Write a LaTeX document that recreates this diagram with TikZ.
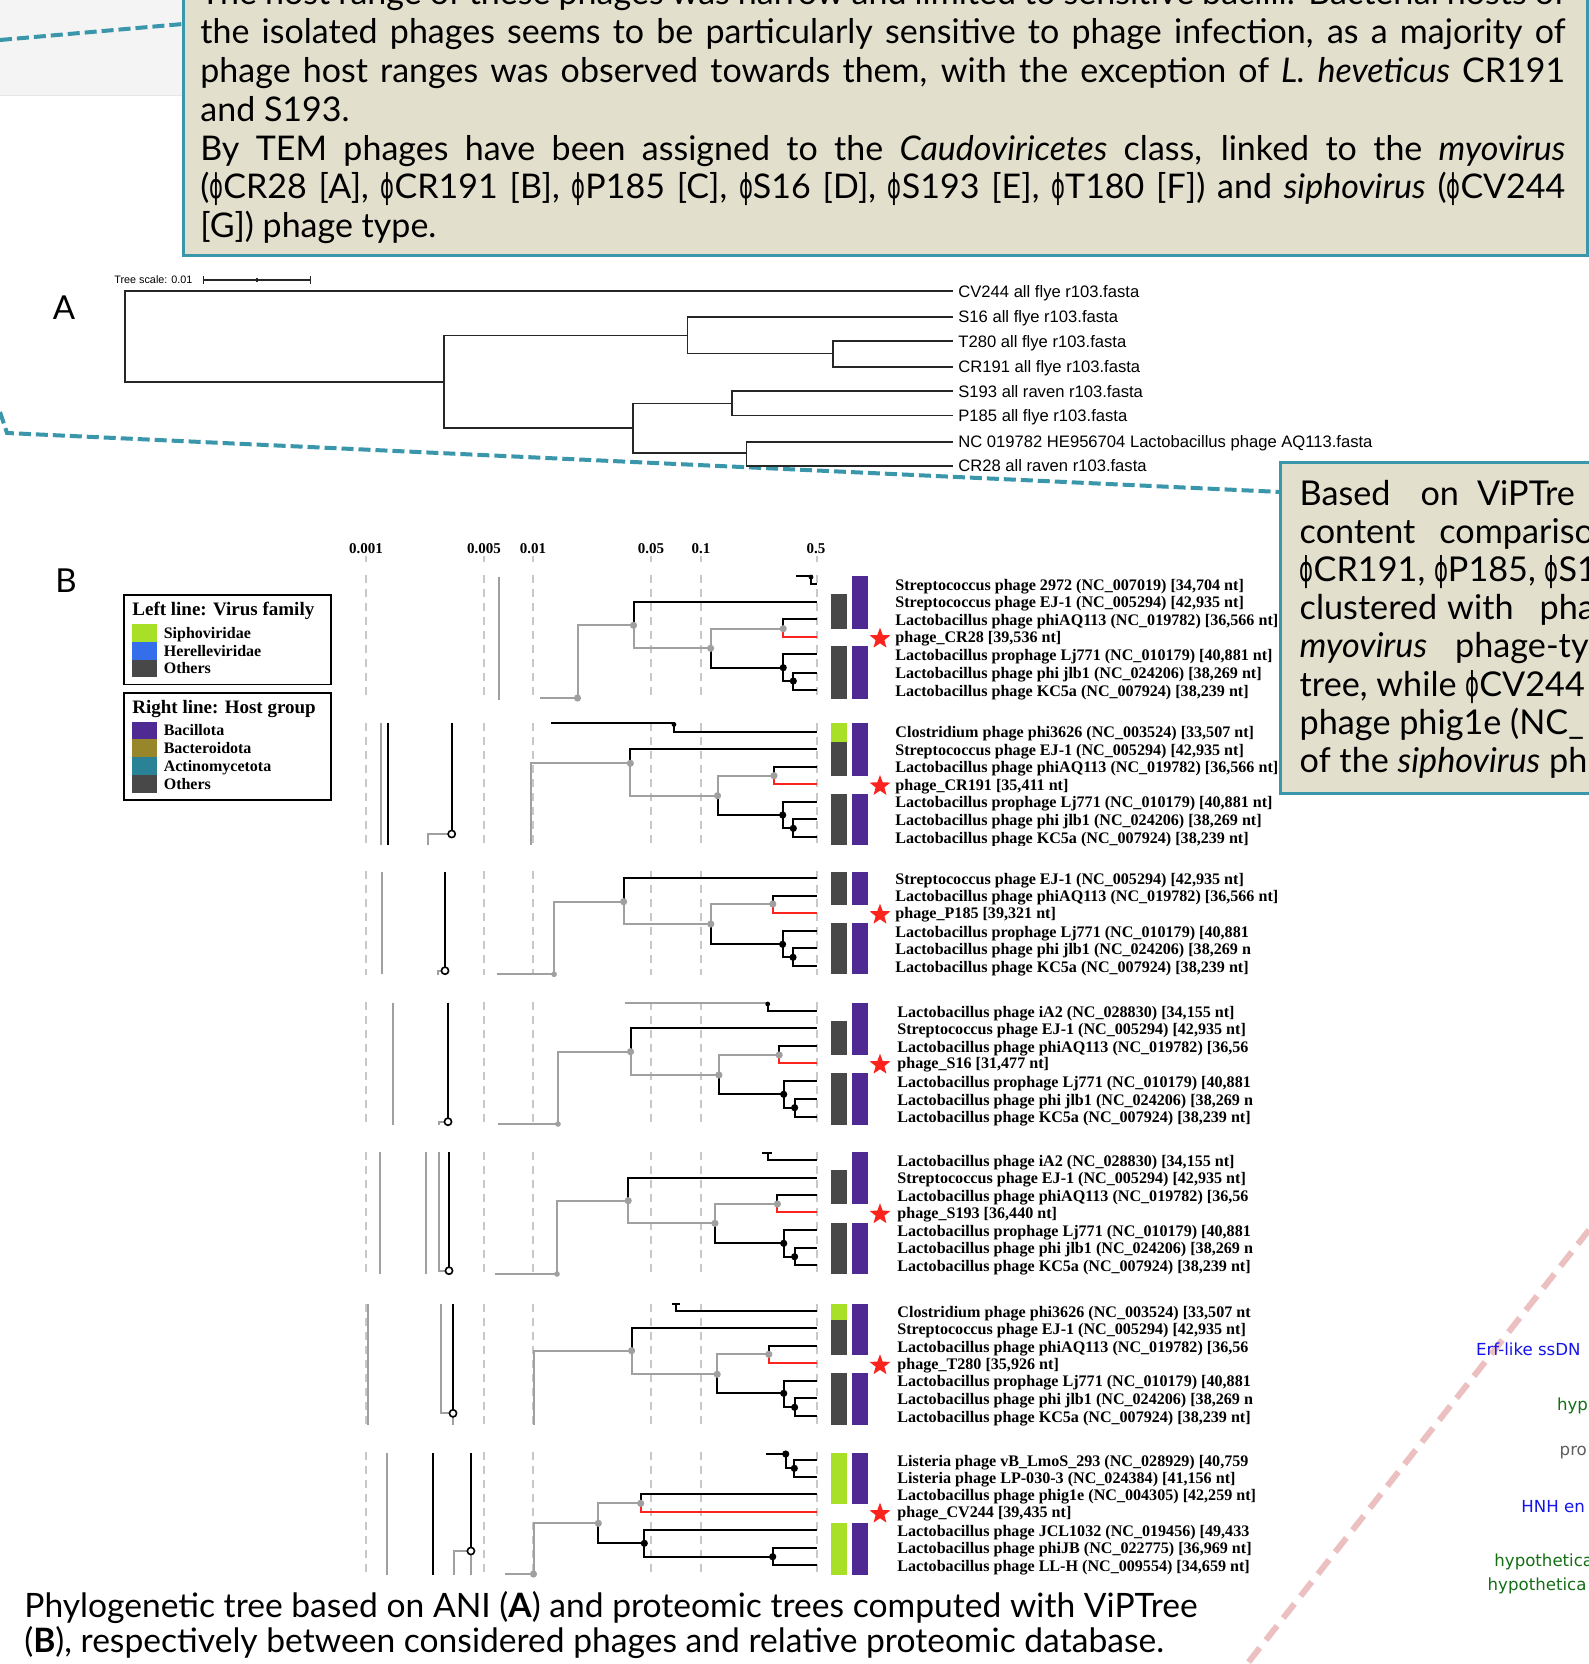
\documentclass[tikz,border=0pt]{standalone}
\usepackage{fontspec}
\usepackage{graphicx}
\setmainfont{Lato}
\newfontfamily\phifont{DejaVu Sans}
\newfontfamily\arialf{Liberation Sans}
\newfontfamily\timesf{Liberation Serif}
\newfontfamily\dvs{DejaVu Sans}
\usetikzlibrary{shapes.geometric}
\newcommand{\ph}{{\phifont\scalebox{0.62}[1]{ϕ}}}
\definecolor{tealb}{RGB}{58,150,170}
\definecolor{beigeb}{RGB}{226,223,205}
\definecolor{lgrayb}{RGB}{244,244,244}
\definecolor{tgray}{RGB}{160,160,160}
\definecolor{dgrid}{RGB}{200,200,200}
\definecolor{barg}{RGB}{72,72,72}
\definecolor{barp}{RGB}{78,42,146}
\definecolor{barl}{RGB}{168,224,40}
\definecolor{herb}{RGB}{52,110,235}
\definecolor{bacb}{RGB}{152,134,42}
\definecolor{actt}{RGB}{42,130,150}
\definecolor{pinkd}{RGB}{236,192,192}
\definecolor{tred}{RGB}{250,35,30}
\definecolor{lblue}{RGB}{20,20,235}
\definecolor{lgreen}{RGB}{20,110,20}
\definecolor{lgrayt}{RGB}{95,95,95}
\newcommand{\mylab}[4]{\node[tlab] (#1) at (#2,#3) {#4};}
\newcommand{\jline}[1]{\makebox[682.5pt][s]{\spaceskip=0.2em plus 1em minus 0.1em #1}}
\begin{document}
\begin{tikzpicture}[x=0.5pt,y=-0.5pt,
  blk/.style={draw=black, line width=1pt},
  gry/.style={draw=tgray, line width=1pt},
  rdl/.style={draw=tred, line width=1pt},
  gridl/.style={draw=dgrid, line width=0.7pt, dash pattern=on 4pt off 3pt},
  trea/.style={draw=black!85, line width=0.8pt},
  tlab/.style={anchor=base west, inner sep=0pt, font=\timesf\bfseries\fontsize{8.05pt}{9pt}\selectfont},
  alab/.style={anchor=base west, inner sep=0pt, font=\arialf\fontsize{8.3pt}{10pt}\selectfont},
  boxtext/.style={anchor=base west, inner sep=0pt, font=\fontsize{17pt}{19pt}\selectfont},
  rboxtext/.style={anchor=base west, inner sep=0pt, font=\fontsize{17.1pt}{19pt}\selectfont},
  captext/.style={anchor=base west, inner sep=0pt, font=\fontsize{16.8pt}{19pt}\selectfont},
  starmark/.style={star, star points=5, star point ratio=2.4, fill=tred, draw=none, inner sep=0pt, minimum size=11pt},
  legt/.style={anchor=base west, inner sep=0pt, font=\timesf\bfseries\fontsize{9.5pt}{11pt}\selectfont},
  lege/.style={anchor=base west, inner sep=0pt, font=\timesf\bfseries\fontsize{8pt}{9pt}\selectfont},
  scl/.style={anchor=base, inner sep=0pt, font=\timesf\bfseries\fontsize{7.5pt}{9pt}\selectfont},
  rlab/.style={anchor=base west, inner sep=0pt, font=\dvs\fontsize{8.3pt}{10pt}\selectfont},
  legbox/.style={draw=black, line width=0.8pt},
  tealdash/.style={draw=tealb, line width=2pt, dash pattern=on 6pt off 2.5pt},
  infobox/.style={fill=beigeb, draw=tealb, line width=1.5pt}]
\useasboundingbox (0,0) rectangle (1589,1664);
\clip (0,0) rectangle (1589,1664);
\fill[white] (0,0) rectangle (1589,1664);
% top-left grey panel
\fill[lgrayb] (0,0) rectangle (183,96);
\draw[black!10, line width=0.5pt] (0,96) -- (183,96);
% teal dashed connectors
\draw[tealdash] (0,40) -- (183,24);
\draw[tealdash] (0,412) -- (7,433) -- (1281,492);
% pink dashed
\draw[draw=pinkd, line width=3pt, dash pattern=on 9pt off 5pt] (1589,1230) -- (1247,1664);

% top box
\draw[infobox] (183,-10) rectangle (1587,256);
\node[boxtext] (t0) at (200,5) {\jline{The host range of these phages was narrow and limited to sensitive bacilli. Bacterial hosts of}};
\node[boxtext] (t1) at (200,44) {\jline{the isolated phages seems to be particularly sensitive to phage infection, as a majority of}};
\node[boxtext] (t2) at (200,83) {\jline{phage host ranges was observed towards them, with the exception of \textit{L. heveticus} CR191}};
\node[boxtext] (t3) at (200,122) {and S193.};
\node[boxtext] (t4) at (200,160.5) {\jline{By TEM phages have been assigned to the \textit{Caudoviricetes} class, linked to the \textit{myovirus}}};
\node[boxtext] (t5) at (200,199) {\jline{(\ph CR28 [A], \ph CR191 [B], \ph P185 [C], \ph S16 [D], \ph S193 [E], \ph T180 [F]) and \textit{siphovirus} (\ph CV244}};
\node[boxtext] (t6) at (200,237.5) {[G]) phage type.};

% ---------------- Tree A ----------------
\node[anchor=base west, inner sep=0pt, font=\arialf\fontsize{5.4pt}{6pt}\selectfont] (tscale) at (114,284) {Tree scale: 0.01};
\draw[trea, line width=0.6pt] (203.6,280) -- (310.7,280);
\draw[trea, line width=0.6pt] (203.6,276) -- (203.6,284) (310.7,276) -- (310.7,284) (257,278) -- (257,282);
\node[anchor=center, inner sep=0pt, font=\fontsize{16.5pt}{18pt}\selectfont] (labA) at (64,308) {A};
\draw[trea] (953,291) -- (125,291) -- (125,381.7) -- (444,381.7);
\draw[trea] (953,316.7) -- (687.5,316.7) -- (687.5,353.3) -- (833,353.3);
\draw[trea] (687.5,335.3) -- (444,335.3) -- (444,428) -- (633,428);
\draw[trea] (953,341) -- (833,341) -- (833,366.7) -- (953,366.7);
\draw[trea] (633,403.3) -- (633,452.7) -- (746.4,452.7);
\draw[trea] (633,403.3) -- (732,403.3);
\draw[trea] (953,391) -- (732,391) -- (732,415.3) -- (953,415.3);
\draw[trea] (953,441.7) -- (746.4,441.7) -- (746.4,465.7) -- (953,465.7);
\node[alab] (a1) at (958,297) {CV244 all flye r103.fasta};
\node[alab] (a2) at (958,322.7) {S16 all flye r103.fasta};
\node[alab] (a3) at (958,347) {T280 all flye r103.fasta};
\node[alab] (a4) at (958,372.7) {CR191 all flye r103.fasta};
\node[alab] (a5) at (958,397) {S193 all raven r103.fasta};
\node[alab] (a6) at (958,421.3) {P185 all flye r103.fasta};
\node[alab] (a7) at (958,447.7) {NC 019782 HE956704 Lactobacillus phage AQ113.fasta};
\node[alab] (a8) at (958,471.7) {CR28 all raven r103.fasta};

% ---------------- Tree B ----------------
\node[anchor=center, inner sep=0pt, font=\fontsize{16.5pt}{18pt}\selectfont] (labB) at (66,581) {B};
\node[scl] (s1) at (366,553) {0.001};
\node[scl] (s2) at (484,553) {0.005};
\node[scl] (s3) at (533,553) {0.01};
\node[scl] (s4) at (651,553) {0.05};
\node[scl] (s5) at (701,553) {0.1};
\node[scl] (s6) at (816,553) {0.5};
\foreach \xx in {366,484,533,651,701,817} {
  \draw[gridl] (\xx,556) -- (\xx,562);
  \foreach \ya/\yb in {575/700, 723/845, 871/975, 1002/1125, 1152/1274, 1304/1425, 1452/1575}
    \draw[gridl] (\xx,\ya) -- (\xx,\yb);
}

% legend
\draw[legbox] (124,595) rectangle (331,684.5);
\node[legt] (lg1) at (132,615) {Left line: Virus family};
\fill[barl] (132,624.3) rectangle (156.5,642.3);
\fill[herb] (132,642.3) rectangle (156.5,660);
\fill[barg] (132,660) rectangle (156.5,677.3);
\node[lege] (lg1a) at (163.4,638) {Siphoviridae};
\node[lege] (lg1b) at (163.4,656) {Herelleviridae};
\node[lege] (lg1c) at (163.4,673.7) {Others};
\draw[legbox] (124,692.7) rectangle (331,800);
\node[legt] (lg2) at (132,713.3) {Right line: Host group};
\fill[barp] (132,721.7) rectangle (156.5,739.3);
\fill[bacb] (132,739.3) rectangle (156.5,757.3);
\fill[actt] (132,757.3) rectangle (156.5,775);
\fill[barg] (132,775) rectangle (156.5,793.3);
\node[lege] (lg2a) at (163.4,735.5) {Bacillota};
\node[lege] (lg2b) at (163.4,753.3) {Bacteroidota};
\node[lege] (lg2c) at (163.4,771) {Actinomycetota};
\node[lege] (lg2d) at (163.4,789) {Others};

% ===== panel 1 (CR28)
\draw[gry] (499.4,576.7) -- (499.4,700);
\draw[gry] (540,698) -- (577.5,698) -- (577.5,625.3) -- (633.5,625.3);
\draw[blk] (817,601.7) -- (633.5,601.7) -- (633.5,625.3);
\draw[gry] (633.5,625.3) -- (633.5,648.3) -- (710.6,648.3);
\draw[gry] (710.6,648.3) -- (710.6,628.7) -- (783.2,628.7);
\draw[blk] (710.6,648.3) -- (710.6,667.7) -- (783.2,667.7);
\draw[blk] (783.2,628.7) -- (783.2,619.3) -- (817,619.3);
\draw[rdl] (783.2,628.7) -- (783.2,636.7) -- (817,636.7);
\draw[blk] (817,654.3) -- (783.2,654.3) -- (783.2,681) -- (793.3,681);
\draw[blk] (817,672.7) -- (793.3,672.7) -- (793.3,690) -- (817,690);
\draw[blk] (796,576) -- (811,576) -- (811,584) -- (817,584);
\foreach \p in {(577.5,698),(633.5,625.3),(710.6,648.3),(783.2,628.7)} \fill[tgray] \p circle (1.8pt);
\foreach \p in {(783.2,667.7),(793.3,681)} \fill[black] \p circle (1.8pt);
\fill[black] (811,577) circle (1.2pt);
\fill[barp] (852,576) rectangle (868,629);
\fill[barg] (831,594) rectangle (847,629);
\fill[barp] (852,646) rectangle (868,699);
\fill[barg] (831,646) rectangle (847,699);
\node[starmark] (st1) at (880,638.7) {};
\mylab{p1a}{895}{590}{Streptococcus phage 2972 (NC\_007019) [34,704 nt]}
\mylab{p1b}{895}{607.7}{Streptococcus phage EJ-1 (NC\_005294) [42,935 nt]}
\mylab{p1c}{895}{625.3}{Lactobacillus phage phiAQ113 (NC\_019782) [36,566 nt]}
\mylab{p1d}{895}{642.7}{phage\_CR28 [39,536 nt]}
\mylab{p1e}{895}{660.3}{Lactobacillus prophage Lj771 (NC\_010179) [40,881 nt]}
\mylab{p1f}{895}{678.7}{Lactobacillus phage phi jlb1 (NC\_024206) [38,269 nt]}
\mylab{p1g}{895}{696}{Lactobacillus phage KC5a (NC\_007924) [38,239 nt]}

% ===== panel 2 (CR191)
\draw[gry] (381,723) -- (381,845);
\draw[blk] (388.3,723) -- (388.3,845);
\draw[blk] (451.7,723) -- (451.7,830.5);
\draw[gry] (428.3,845) -- (428.3,834) -- (448.2,834);
\draw[black, line width=0.8pt, fill=white] (451.7,834) circle (1.8pt);
\draw[gry] (530.7,845) -- (530.7,763.3) -- (630.3,763.3);
\draw[blk] (817,749) -- (630.3,749) -- (630.3,763.3);
\draw[gry] (630.3,763.3) -- (630.3,795.7) -- (717.5,795.7);
\draw[gry] (717.5,795.7) -- (717.5,775.7) -- (774,775.7);
\draw[blk] (717.5,795.7) -- (717.5,815) -- (782.7,815);
\draw[blk] (774,775.7) -- (774,766.7) -- (817,766.7);
\draw[rdl] (774,775.7) -- (774,784) -- (817,784);
\draw[blk] (817,801.7) -- (782.7,801.7) -- (782.7,828.3) -- (793.3,828.3);
\draw[blk] (817,819.3) -- (793.3,819.3) -- (793.3,837.3) -- (817,837.3);
\draw[blk] (551,723.3) -- (674,723.3) -- (674,731.7) -- (817,731.7);
\foreach \p in {(630.3,763.3),(717.5,795.7),(774,775.7)} \fill[tgray] \p circle (1.8pt);
\foreach \p in {(782.7,815),(793.3,828.3)} \fill[black] \p circle (1.8pt);
\fill[black] (674,724.5) circle (1.2pt);
\fill[barl] (831,723.3) rectangle (847,741.7);
\fill[barg] (831,741.7) rectangle (847,776);
\fill[barp] (852,723.3) rectangle (868,776);
\fill[barg] (831,794.3) rectangle (847,845);
\fill[barp] (852,794.3) rectangle (868,845);
\node[starmark] (st2) at (880,786) {};
\begin{scope}
\clip (880,700) rectangle (1300,845.5);
\mylab{p2a}{895}{737.7}{Clostridium phage phi3626 (NC\_003524) [33,507 nt]}
\mylab{p2b}{895}{755}{Streptococcus phage EJ-1 (NC\_005294) [42,935 nt]}
\mylab{p2c}{895}{772.7}{Lactobacillus phage phiAQ113 (NC\_019782) [36,566 nt]}
\mylab{p2d}{895}{790}{phage\_CR191 [35,411 nt]}
\mylab{p2e}{895}{807.7}{Lactobacillus prophage Lj771 (NC\_010179) [40,881 nt]}
\mylab{p2f}{895}{825.3}{Lactobacillus phage phi jlb1 (NC\_024206) [38,269 nt]}
\mylab{p2g}{895}{843.3}{Lactobacillus phage KC5a (NC\_007924) [38,239 nt]}
\end{scope}

% ===== panel 3 (P185)
\draw[gry] (382,871.7) -- (382,974.3);
\draw[blk] (445,871.7) -- (445,967.2);
\draw[gry] (437.6,975) -- (437.6,970.7) -- (441.5,970.7);
\draw[black, line width=0.8pt, fill=white] (445,970.7) circle (1.8pt);
\draw[gry] (496.7,974.3) -- (554.1,974.3) -- (554.1,901.7) -- (623.6,901.7);
\draw[blk] (817,878.3) -- (623.6,878.3) -- (623.6,901.7);
\draw[gry] (623.6,901.7) -- (623.6,924) -- (710.8,924);
\draw[gry] (710.8,924) -- (710.8,904) -- (772.8,904);
\draw[blk] (710.8,924) -- (710.8,944.3) -- (782.6,944.3);
\draw[blk] (772.8,904) -- (772.8,895.7) -- (817,895.7);
\draw[rdl] (772.8,904) -- (772.8,912.7) -- (817,912.7);
\draw[blk] (817,931) -- (782.6,931) -- (782.6,957.3) -- (793,957.3);
\draw[blk] (817,948.3) -- (793,948.3) -- (793,966) -- (817,966);
\foreach \p in {(623.6,901.7),(710.8,924),(772.8,904)} \fill[tgray] \p circle (1.8pt);
\fill[tgray] (554.1,974.3) circle (1.4pt);
\foreach \p in {(782.6,944.3),(793,957.3)} \fill[black] \p circle (1.8pt);
\fill[barg] (831,871.7) rectangle (847,905);
\fill[barp] (852,871.7) rectangle (868,905);
\fill[barg] (831,923) rectangle (847,974);
\fill[barp] (852,923) rectangle (868,974);
\node[starmark] (st3) at (880,914.7) {};
\begin{scope}
\clip (880,860) rectangle (1300,975);
\mylab{p3a}{895}{884.3}{Streptococcus phage EJ-1 (NC\_005294) [42,935 nt]}
\mylab{p3b}{895}{901.7}{Lactobacillus phage phiAQ113 (NC\_019782) [36,566 nt]}
\mylab{p3c}{895}{918.7}{phage\_P185 [39,321 nt]}
\mylab{p3d}{895}{937}{Lactobacillus prophage Lj771 (NC\_010179) [40,881}
\mylab{p3e}{895}{954.3}{Lactobacillus phage phi jlb1 (NC\_024206) [38,269 n}
\mylab{p3f}{895}{972}{Lactobacillus phage KC5a (NC\_007924) [38,239 nt]}
\end{scope}

% ===== panel 4 (S16)
\draw[gry] (393.4,1002.7) -- (393.4,1125);
\draw[blk] (448,1002.7) -- (448,1118.2);
\draw[gry] (438.7,1125) -- (438.7,1121.7) -- (444.5,1121.7);
\draw[black, line width=0.8pt, fill=white] (448,1121.7) circle (1.8pt);
\draw[gry] (498,1124) -- (558,1124) -- (558,1051.7) -- (630.5,1051.7);
\draw[blk] (817,1028.3) -- (630.5,1028.3) -- (630.5,1051.7);
\draw[gry] (630.5,1051.7) -- (630.5,1075) -- (718.9,1075);
\draw[gry] (718.9,1075) -- (718.9,1055) -- (779.2,1055);
\draw[blk] (718.9,1075) -- (718.9,1094.3) -- (783.7,1094.3);
\draw[blk] (779.2,1055) -- (779.2,1046) -- (817,1046);
\draw[rdl] (779.2,1055) -- (779.2,1062.7) -- (817,1062.7);
\draw[blk] (817,1081) -- (783.7,1081) -- (783.7,1107.7) -- (794.6,1107.7);
\draw[blk] (817,1099.3) -- (794.6,1099.3) -- (794.6,1116.7) -- (817,1116.7);
\draw[gry] (625,1002.7) -- (767.7,1002.7);
\draw[blk] (767.7,1002.7) -- (767.7,1011) -- (817,1011);
\foreach \p in {(630.5,1051.7),(718.9,1075),(779.2,1055)} \fill[tgray] \p circle (1.8pt);
\fill[tgray] (558,1124) circle (1.4pt);
\foreach \p in {(783.7,1094.3),(794.6,1107.7)} \fill[black] \p circle (1.8pt);
\fill[black] (767.7,1004) circle (1.2pt);
\fill[barg] (831,1021) rectangle (847,1055);
\fill[barp] (852,1002.7) rectangle (868,1055);
\fill[barg] (831,1073) rectangle (847,1125);
\fill[barp] (852,1073) rectangle (868,1125);
\node[starmark] (st4) at (880,1064.7) {};
\begin{scope}
\clip (880,990) rectangle (1300,1125.5);
\mylab{p4a}{897}{1017}{Lactobacillus phage iA2 (NC\_028830) [34,155 nt]}
\mylab{p4b}{897}{1034.3}{Streptococcus phage EJ-1 (NC\_005294) [42,935 nt]}
\mylab{p4c}{897}{1052}{Lactobacillus phage phiAQ113 (NC\_019782) [36,56}
\mylab{p4d}{897}{1068.7}{phage\_S16 [31,477 nt]}
\mylab{p4e}{897}{1087}{Lactobacillus prophage Lj771 (NC\_010179) [40,881}
\mylab{p4f}{897}{1105.3}{Lactobacillus phage phi jlb1 (NC\_024206) [38,269 n}
\mylab{p4g}{897}{1122.7}{Lactobacillus phage KC5a (NC\_007924) [38,239 nt]}
\end{scope}

% ===== panel 5 (S193)
\draw[gry] (380.2,1152.3) -- (380.2,1274);
\draw[gry] (426.1,1152.3) -- (426.1,1274);
\draw[gry] (439.3,1152.3) -- (439.3,1270.7) -- (445.5,1270.7);
\draw[blk] (449,1152.3) -- (449,1267.2);
\draw[black, line width=0.8pt, fill=white] (449,1270.7) circle (1.8pt);
\draw[gry] (495,1274) -- (557,1274) -- (557,1200.7) -- (628.2,1200.7);
\draw[blk] (817,1177.7) -- (628.2,1177.7) -- (628.2,1200.7);
\draw[gry] (628.2,1200.7) -- (628.2,1223.3) -- (714.9,1223.3);
\draw[gry] (714.9,1223.3) -- (714.9,1204) -- (777.4,1204);
\draw[blk] (714.9,1223.3) -- (714.9,1243.3) -- (783.7,1243.3);
\draw[blk] (777.4,1204) -- (777.4,1195) -- (817,1195);
\draw[rdl] (777.4,1204) -- (777.4,1212.3) -- (817,1212.3);
\draw[blk] (817,1230) -- (783.7,1230) -- (783.7,1256.7) -- (794.6,1256.7);
\draw[blk] (817,1247.7) -- (794.6,1247.7) -- (794.6,1265) -- (817,1265);
\draw[blk] (762,1152.7) -- (772,1152.7);
\draw[blk] (767.7,1152.7) -- (767.7,1160) -- (817,1160);
\foreach \p in {(628.2,1200.7),(714.9,1223.3),(777.4,1204)} \fill[tgray] \p circle (1.8pt);
\fill[tgray] (557,1274) circle (1.4pt);
\foreach \p in {(783.7,1243.3),(794.6,1256.7)} \fill[black] \p circle (1.8pt);
\fill[barg] (831,1170) rectangle (847,1204);
\fill[barp] (852,1152.3) rectangle (868,1204);
\fill[barg] (831,1222.7) rectangle (847,1274);
\fill[barp] (852,1222.7) rectangle (868,1274);
\node[starmark] (st5) at (880,1214.3) {};
\begin{scope}
\clip (880,1140) rectangle (1300,1275.5);
\mylab{p5a}{897}{1166}{Lactobacillus phage iA2 (NC\_028830) [34,155 nt]}
\mylab{p5b}{897}{1183.7}{Streptococcus phage EJ-1 (NC\_005294) [42,935 nt]}
\mylab{p5c}{897}{1201}{Lactobacillus phage phiAQ113 (NC\_019782) [36,56}
\mylab{p5d}{897}{1218.3}{phage\_S193 [36,440 nt]}
\mylab{p5e}{897}{1236}{Lactobacillus prophage Lj771 (NC\_010179) [40,881}
\mylab{p5f}{897}{1253.7}{Lactobacillus phage phi jlb1 (NC\_024206) [38,269 n}
\mylab{p5g}{897}{1271}{Lactobacillus phage KC5a (NC\_007924) [38,239 nt]}
\end{scope}

% ===== panel 6 (T280)
\draw[gry] (367.6,1304) -- (367.6,1425);
\draw[gry] (440.5,1304) -- (440.5,1413.3) -- (449.5,1413.3);
\draw[blk] (453,1304) -- (453,1409.8);
\draw[gry] (453,1416.8) -- (453,1425);
\draw[black, line width=0.8pt, fill=white] (453,1413.3) circle (1.8pt);
\draw[gry] (533.5,1425) -- (533.5,1350.7) -- (631.6,1350.7);
\draw[blk] (817,1328.3) -- (631.6,1328.3) -- (631.6,1350.7);
\draw[gry] (631.6,1350.7) -- (631.6,1374.3) -- (717.2,1374.3);
\draw[gry] (717.2,1374.3) -- (717.2,1354.3) -- (768.8,1354.3);
\draw[blk] (717.2,1374.3) -- (717.2,1393.3) -- (783.7,1393.3);
\draw[blk] (768.8,1354.3) -- (768.8,1346) -- (817,1346);
\draw[rdl] (768.8,1354.3) -- (768.8,1363.3) -- (817,1363.3);
\draw[blk] (817,1380.7) -- (783.7,1380.7) -- (783.7,1407.3) -- (794.6,1407.3);
\draw[blk] (817,1398.3) -- (794.6,1398.3) -- (794.6,1416) -- (817,1416);
\draw[blk] (672,1304) -- (680,1304);
\draw[blk] (675.8,1304) -- (675.8,1311) -- (817,1311);
\foreach \p in {(631.6,1350.7),(717.2,1374.3),(768.8,1354.3)} \fill[tgray] \p circle (1.8pt);
\foreach \p in {(783.7,1393.3),(794.6,1407.3)} \fill[black] \p circle (1.8pt);
\fill[barl] (831,1304) rectangle (847,1320);
\fill[barg] (831,1320) rectangle (847,1355);
\fill[barp] (852,1304) rectangle (868,1355);
\fill[barg] (831,1373.3) rectangle (847,1425);
\fill[barp] (852,1373.3) rectangle (868,1425);
\node[starmark] (st6) at (880,1365.3) {};
\begin{scope}
\clip (880,1290) rectangle (1300,1426);
\mylab{p6a}{897}{1317}{Clostridium phage phi3626 (NC\_003524) [33,507 nt}
\mylab{p6b}{897}{1334.3}{Streptococcus phage EJ-1 (NC\_005294) [42,935 nt]}
\mylab{p6c}{897}{1352}{Lactobacillus phage phiAQ113 (NC\_019782) [36,56}
\mylab{p6d}{897}{1369.3}{phage\_T280 [35,926 nt]}
\mylab{p6e}{897}{1386.7}{Lactobacillus prophage Lj771 (NC\_010179) [40,881}
\mylab{p6f}{897}{1404.3}{Lactobacillus phage phi jlb1 (NC\_024206) [38,269 n}
\mylab{p6g}{897}{1422}{Lactobacillus phage KC5a (NC\_007924) [38,239 nt]}
\end{scope}

% ===== panel 7 (CV244)
\draw[gry] (387,1452.7) -- (387,1575);
\draw[blk] (433,1452.7) -- (433,1575);
\draw[blk] (470.9,1452.7) -- (470.9,1547.5);
\draw[gry] (453.7,1575) -- (453.7,1551) -- (467.4,1551);
\draw[gry] (470.9,1554.5) -- (470.9,1575);
\draw[black, line width=0.8pt, fill=white] (470.9,1551) circle (1.8pt);
\draw[gry] (505.3,1574) -- (533.5,1574) -- (533.5,1523.3) -- (598.3,1523.3);
\draw[gry] (598.3,1523.3) -- (598.3,1503.3) -- (640.7,1503.3);
\draw[blk] (598.3,1523.3) -- (598.3,1543.3) -- (644.3,1543.3);
\draw[blk] (640.7,1503.3) -- (640.7,1494.3) -- (817,1494.3);
\draw[rdl] (640.7,1503.3) -- (640.7,1511.7) -- (817,1511.7);
\draw[blk] (817,1530) -- (644.3,1530) -- (644.3,1556.7) -- (772.7,1556.7);
\draw[blk] (817,1547.7) -- (772.7,1547.7) -- (772.7,1565) -- (817,1565);
\draw[blk] (766,1454) -- (785.7,1454) -- (785.7,1468.3) -- (794.3,1468.3);
\draw[blk] (817,1460) -- (794.3,1460) -- (794.3,1477.3) -- (817,1477.3);
\foreach \p in {(533.5,1574),(598.3,1523.3),(640.7,1503.3)} \fill[tgray] \p circle (1.8pt);
\foreach \p in {(644.3,1543.3),(772.7,1556.7),(785.7,1454),(794.3,1468.3)} \fill[black] \p circle (1.8pt);
\fill[barl] (831,1452.7) rectangle (847,1504);
\fill[barp] (852,1452.7) rectangle (868,1504);
\fill[barl] (831,1522.7) rectangle (847,1575);
\fill[barp] (852,1522.7) rectangle (868,1575);
\node[starmark] (st7) at (880,1513.7) {};
\begin{scope}
\clip (880,1440) rectangle (1300,1577);
\mylab{p7a}{897}{1466}{Listeria phage vB\_LmoS\_293 (NC\_028929) [40,759}
\mylab{p7b}{897}{1483.3}{Listeria phage LP-030-3 (NC\_024384) [41,156 nt]}
\mylab{p7c}{897}{1500.3}{Lactobacillus phage phig1e (NC\_004305) [42,259 nt]}
\mylab{p7d}{897}{1517.7}{phage\_CV244 [39,435 nt]}
\mylab{p7e}{897}{1536}{Lactobacillus phage JCL1032 (NC\_019456) [49,433}
\mylab{p7f}{897}{1553.7}{Lactobacillus phage phiJB (NC\_022775) [36,969 nt]}
\mylab{p7g}{897}{1571}{Lactobacillus phage LL-H (NC\_009554) [34,659 nt]}
\end{scope}

% right box
\draw[infobox] (1280,462) rectangle (1610,793);
\node[rboxtext] (r1) at (1299.3,505) {Based\hspace{15pt}on\hspace{9pt}ViPTre};
\node[rboxtext] (r2) at (1299.3,543.2) {content\hspace{12pt}compariso};
\node[rboxtext] (r3) at (1299.3,581.4) {\ph CR191, \ph P185, \ph S1};
\node[rboxtext] (r4) at (1299.3,619.6) {clustered\hspace{5pt}with\hspace{13pt}pha};
\node[rboxtext] (r5) at (1299.3,657.8) {\textit{myovirus}\hspace{14pt}phage-ty};
\node[rboxtext] (r6) at (1299.3,696) {tree, while \ph CV244};
\node[rboxtext] (r7) at (1299.3,734.2) {phage phig1e (NC\_};
\node[rboxtext] (r8) at (1299.3,772.4) {of the \textit{siphovirus} ph};

% right-bottom labels
\node[rlab, text=lblue] (g1) at (1475.7,1355) {Erf-like ssDN};
\node[rlab, text=lgreen] (g2) at (1556.7,1410.5) {hyp};
\node[rlab, text=lgrayt] (g3) at (1559.3,1455.5) {pro};
\node[rlab, text=lblue] (g4) at (1521,1512) {HNH en};
\node[rlab, text=lgreen] (g5) at (1494,1566) {hypothetica};
\node[rlab, text=lgreen] (g6) at (1487.3,1590.5) {hypothetica};

% caption
\node[captext] (c1) at (24,1617) {Phylogenetic tree based on ANI (\textbf{A}) and proteomic trees computed with ViPTree};
\node[captext] (c2) at (24,1652) {(\textbf{B}), respectively between considered phages and relative proteomic database.};
\end{tikzpicture}
\end{document}
